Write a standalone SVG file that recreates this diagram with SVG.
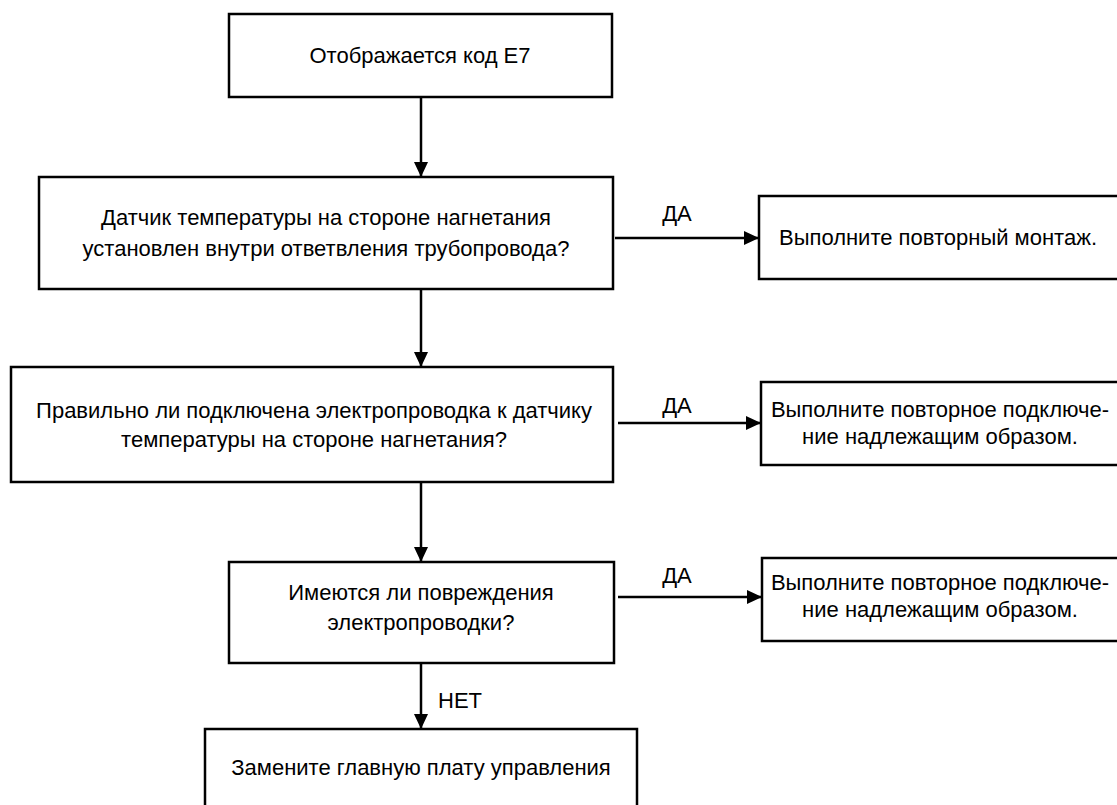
<svg xmlns="http://www.w3.org/2000/svg" width="1117" height="805" viewBox="0 0 1117 805">
<style>
.box{fill:#fff;stroke:#000;stroke-width:2.5}
.t{font-family:"Liberation Sans",Arial,sans-serif;font-size:22px;fill:#000;text-anchor:middle}
.c{stroke:#000;stroke-width:2.5;fill:none}
</style>
<defs>
<marker id="ah" markerUnits="userSpaceOnUse" markerWidth="15" markerHeight="14" refX="15" refY="7" orient="auto">
<path d="M0,0 L15,7 L0,14 z" fill="#000"/>
</marker>
</defs>
<rect width="1117" height="805" fill="#fff"/>
<g id="n1"><rect class="box" x="229" y="14" width="383" height="83"/><text class="t" x="420" y="63">Отображается код E7</text></g>
<g id="n2"><rect class="box" x="39" y="177" width="574" height="112"/><text class="t" x="326" y="225">Датчик температуры на стороне нагнетания</text><text class="t" x="326" y="256">установлен внутри ответвления трубопровода?</text></g>
<g id="n3"><rect class="box" x="759" y="196" width="362" height="83"/><text class="t" x="938" y="245">Выполните повторный монтаж.</text></g>
<g id="n4"><rect class="box" x="11" y="367" width="602" height="115"/><text class="t" x="314" y="418">Правильно ли подключена электропроводка к датчику</text><text class="t" x="314" y="447">температуры на стороне нагнетания?</text></g>
<g id="n5"><rect class="box" x="761" y="382" width="360" height="83"/><text class="t" x="940" y="417">Выполните повторное подключе-</text><text class="t" x="940" y="444">ние надлежащим образом.</text></g>
<g id="n6"><rect class="box" x="229" y="562" width="385" height="101"/><text class="t" x="421" y="600">Имеются ли повреждения</text><text class="t" x="421" y="630">электропроводки?</text></g>
<g id="n7"><rect class="box" x="762" y="558" width="359" height="83"/><text class="t" x="940" y="590">Выполните повторное подключе-</text><text class="t" x="940" y="617">ние надлежащим образом.</text></g>
<g id="n8"><rect class="box" x="205" y="729" width="432" height="90"/><text class="t" x="421" y="775">Замените главную плату управления</text></g>
<g id="connectors">
<line class="c" x1="421" y1="97" x2="421" y2="177" marker-end="url(#ah)"/>
<line class="c" x1="421" y1="289" x2="421" y2="367" marker-end="url(#ah)"/>
<line class="c" x1="421" y1="482" x2="421" y2="562" marker-end="url(#ah)"/>
<line class="c" x1="421" y1="663" x2="421" y2="729" marker-end="url(#ah)"/>
<line class="c" x1="615" y1="238" x2="759" y2="238" marker-end="url(#ah)"/>
<line class="c" x1="618" y1="423" x2="761" y2="423" marker-end="url(#ah)"/>
<line class="c" x1="618" y1="597" x2="762" y2="597" marker-end="url(#ah)"/>
<text class="t" x="677" y="221">ДА</text>
<text class="t" x="677" y="413">ДА</text>
<text class="t" x="677" y="583">ДА</text>
<text class="t" x="460" y="708">НЕТ</text>
</g>
</svg>
